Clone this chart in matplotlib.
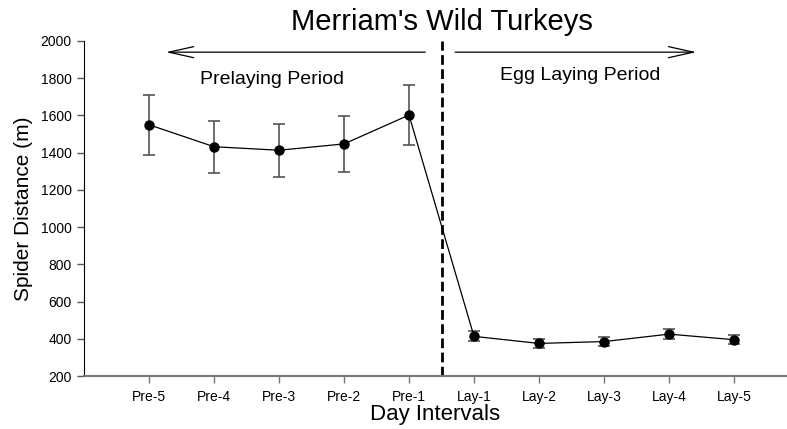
import matplotlib
matplotlib.use("Agg")
import matplotlib.pyplot as plt

plt.rcParams['font.family'] = ['Liberation Sans', 'DejaVu Sans']

categories = ["Pre-5", "Pre-4", "Pre-3", "Pre-2", "Pre-1",
              "Lay-1", "Lay-2", "Lay-3", "Lay-4", "Lay-5"]
means = [1550, 1432, 1413, 1447, 1602, 413, 375, 385, 425, 395]
errors = [162, 140, 143, 150, 160, 27, 22, 22, 27, 24]

W, H = 787, 429
fig = plt.figure(figsize=(W/100, H/100), dpi=100)
ax = fig.add_axes([84/W, 1-376/H, 1-84/W, (376-41)/H])

xs = list(range(1, len(categories)+1))
ax.errorbar(xs, means, yerr=errors, fmt='o-', color='black', ms=6.5, lw=0.9,
            ecolor='#555555', elinewidth=1.2, capsize=4, capthick=1.2, zorder=3)

ax.set_xlim(0, (W-84)/65.0)
ax.set_ylim(200, 2000)
ax.set_yticks(range(200, 2001, 200))
ax.set_xticks(xs)
ax.set_xticklabels(categories)
ax.tick_params(axis='both', labelsize=10, length=5, width=1, color='#777777', pad=5)
ax.tick_params(axis='y', color='#555555', pad=4)
for s in ['top', 'right']:
    ax.spines[s].set_visible(False)
ax.spines['left'].set_color('black')
ax.spines['bottom'].set_color('#777777')
ax.spines['bottom'].set_linewidth(1.5)

ax.axvline(5.5, ymin=0, ymax=1, color='black', lw=2, ls=(0, (3.5, 1.6)), zorder=2)

ay = 1940
style = '->,head_length=1.8,head_width=0.4'
ax.annotate('', xy=(1.26, ay), xytext=(5.25, ay),
            arrowprops=dict(arrowstyle=style, color='black', lw=0.9, shrinkA=0, shrinkB=0))
ax.annotate('', xy=(9.42, ay), xytext=(5.71, ay),
            arrowprops=dict(arrowstyle=style, color='black', lw=0.9, shrinkA=0, shrinkB=0))
ax.text(2.89, 1795, 'Prelaying Period', ha='center', va='center', fontsize=14)
ax.text(7.63, 1813, 'Egg Laying Period', ha='center', va='center', fontsize=14)

ax.set_xlabel('Day Intervals', fontsize=16, labelpad=0)
ax.set_ylabel('Spider Distance (m)', fontsize=15, labelpad=5)
fig.text(442/W, 1-22/H, "Merriam's Wild Turkeys", ha='center', va='center', fontsize=21)

fig.savefig('out.png', dpi=100)
